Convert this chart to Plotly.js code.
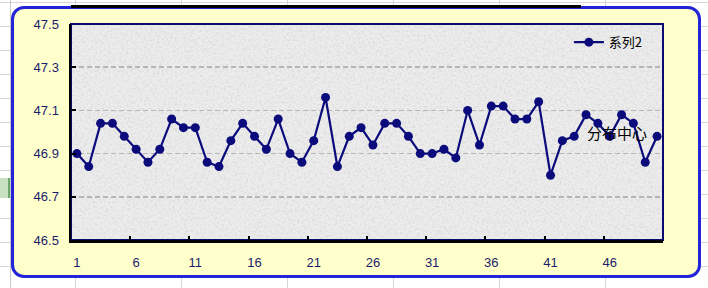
<!DOCTYPE html>
<html>
<head>
<meta charset="utf-8">
<script src="https://cdn.plot.ly/plotly-3.0.1.min.js"></script>
<style>
  html, body { margin: 0; padding: 0; background: #ffffff; }
  #wrap { position: relative; width: 708px; height: 288px; overflow: hidden;
    background-color: #ffffff;
    background-image:
      linear-gradient(to right, #d6d6d6 1px, transparent 1px),
      linear-gradient(to bottom, #d6d6d6 1px, transparent 1px);
    background-size: 106px 288px, 708px 24px;
    background-position: -31px 0, 0 2px;
  }
  #rowhdr { position: absolute; left: 0; top: 0; width: 10px; height: 288px; border-right: 1px solid #c8c8c8; }
  #rowsel { position: absolute; left: 0; top: 178px; width: 8px; height: 20px; background: #c6e0c0; border-right: 2px solid #6aa86a; }
  #frame { position: absolute; left: 11px; top: 6px; width: 684px; height: 266px;
    border: 3px solid #2323d8; border-radius: 13px; background: #ffffcc; }
  #topline { position: absolute; left: 71px; top: 5px; width: 510px; height: 3px; background: #000; }
  #plotbg { position: absolute; left: 71px; top: 24px; width: 592px; height: 216px; }
  #chart { position: absolute; left: 0; top: 0; width: 708px; height: 288px; }
</style>
</head>
<body>
<div id="wrap">
  <div id="rowhdr"></div>
  <div id="rowsel"></div>
  <div id="frame"></div>
  <div id="topline"></div>
  <svg id="plotbg" width="592" height="216">
    <filter id="grain" x="0" y="0" width="100%" height="100%">
      <feTurbulence type="fractalNoise" baseFrequency="0.45" numOctaves="3" seed="7"/>
      <feColorMatrix type="matrix" values="0 0 0 0 0.72  0 0 0 0 0.72  0 0 0 0 0.72  3.0 0 0 0 -1.35"/>
    </filter>
    <rect width="592" height="216" fill="#ececec"/>
    <rect width="592" height="216" fill="#000" filter="url(#grain)"/>
  </svg>
  <div id="chart"></div>
</div>
<script>
const categories = [1,2,3,4,5,6,7,8,9,10,11,12,13,14,15,16,17,18,19,20,21,22,23,24,25,26,27,28,29,30,31,32,33,34,35,36,37,38,39,40,41,42,43,44,45,46,47,48,49,50];
const series2 = [46.90,46.84,47.04,47.04,46.98,46.92,46.86,46.92,47.06,47.02,
                 47.02,46.86,46.84,46.96,47.04,46.98,46.92,47.06,46.90,46.86,
                 46.96,47.16,46.84,46.98,47.02,46.94,47.04,47.04,46.98,46.90,
                 46.90,46.92,46.88,47.10,46.94,47.12,47.12,47.06,47.06,47.14,
                 46.80,46.96,46.98,47.08,47.04,46.98,47.08,47.04,46.86,46.98];
const seriesName = '系列2';
const xTickValues = [1,6,11,16,21,26,31,36,41,46];
const xTickLabels = ['1','6','11','16','21','26','31','36','41','46'];
const yTickValues = [46.5,46.7,46.9,47.1,47.3,47.5];
const yTickLabels = ['46.5','46.7','46.9','47.1','47.3','47.5'];
const centerLabel = '分布中心';
const centerValue = 47.0;
const centerLabelAt = 46.6;

const navy = '#0b0b7c';
const tickFont = {family: 'Liberation Sans, Arial, sans-serif', size: 13, color: '#1c1c6c'};

const trace = {
  x: categories, y: series2, name: seriesName, type: 'scatter', mode: 'lines+markers',
  line: {color: navy, width: 2.2},
  marker: {color: navy, size: 9},
  showlegend: true
};

const layout = {
  width: 708, height: 288,
  margin: {l: 71, r: 45, t: 24, b: 48, pad: 0},
  paper_bgcolor: 'rgba(0,0,0,0)',
  plot_bgcolor: 'rgba(0,0,0,0)',
  showlegend: true,
  legend: {x: 0.841, y: 0.985, xanchor: 'left', yanchor: 'top', bgcolor: 'rgba(0,0,0,0)',
           font: {family: 'Noto Sans CJK SC, sans-serif', size: 13, color: '#000'}},
  xaxis: {
    range: [0.5, 50.5], tickmode: 'array', tickvals: xTickValues, ticktext: xTickLabels,
    ticks: '', showgrid: false, zeroline: false, showline: true, linecolor: '#000', linewidth: 2.5,
    tickfont: tickFont, ticklabelstandoff: 9,
    minor: {tickmode: 'array', tickvals: xTickValues.slice(1).map(v => v - 0.5), ticks: 'inside', ticklen: 4, tickwidth: 2, tickcolor: '#000', showgrid: false}
  },
  yaxis: {
    range: [46.5, 47.5], tickmode: 'array', tickvals: yTickValues, ticktext: yTickLabels,
    ticks: 'inside', ticklen: 5, tickwidth: 2, tickcolor: '#000',
    showgrid: true, gridcolor: '#b6b6b6', gridwidth: 1.5, griddash: '5px,3px',
    zeroline: false, showline: true, linecolor: '#000', linewidth: 2.5,
    tickfont: tickFont, ticklabelstandoff: 7
  },
  shapes: [{type: 'rect', xref: 'paper', yref: 'paper', x0: 0, x1: 1, y0: 0, y1: 1,
            line: {color: '#0a0a70', width: 2}, fillcolor: 'rgba(0,0,0,0)', layer: 'below'}],
  annotations: [{x: centerLabelAt, y: centerValue, xref: 'x', yref: 'y', text: centerLabel, showarrow: false,
                 font: {family: 'Noto Sans CJK SC, sans-serif', size: 15, color: '#000'}}]
};

Plotly.newPlot('chart', [trace], layout, {displayModeBar: false, staticPlot: true});
</script>
</body>
</html>
